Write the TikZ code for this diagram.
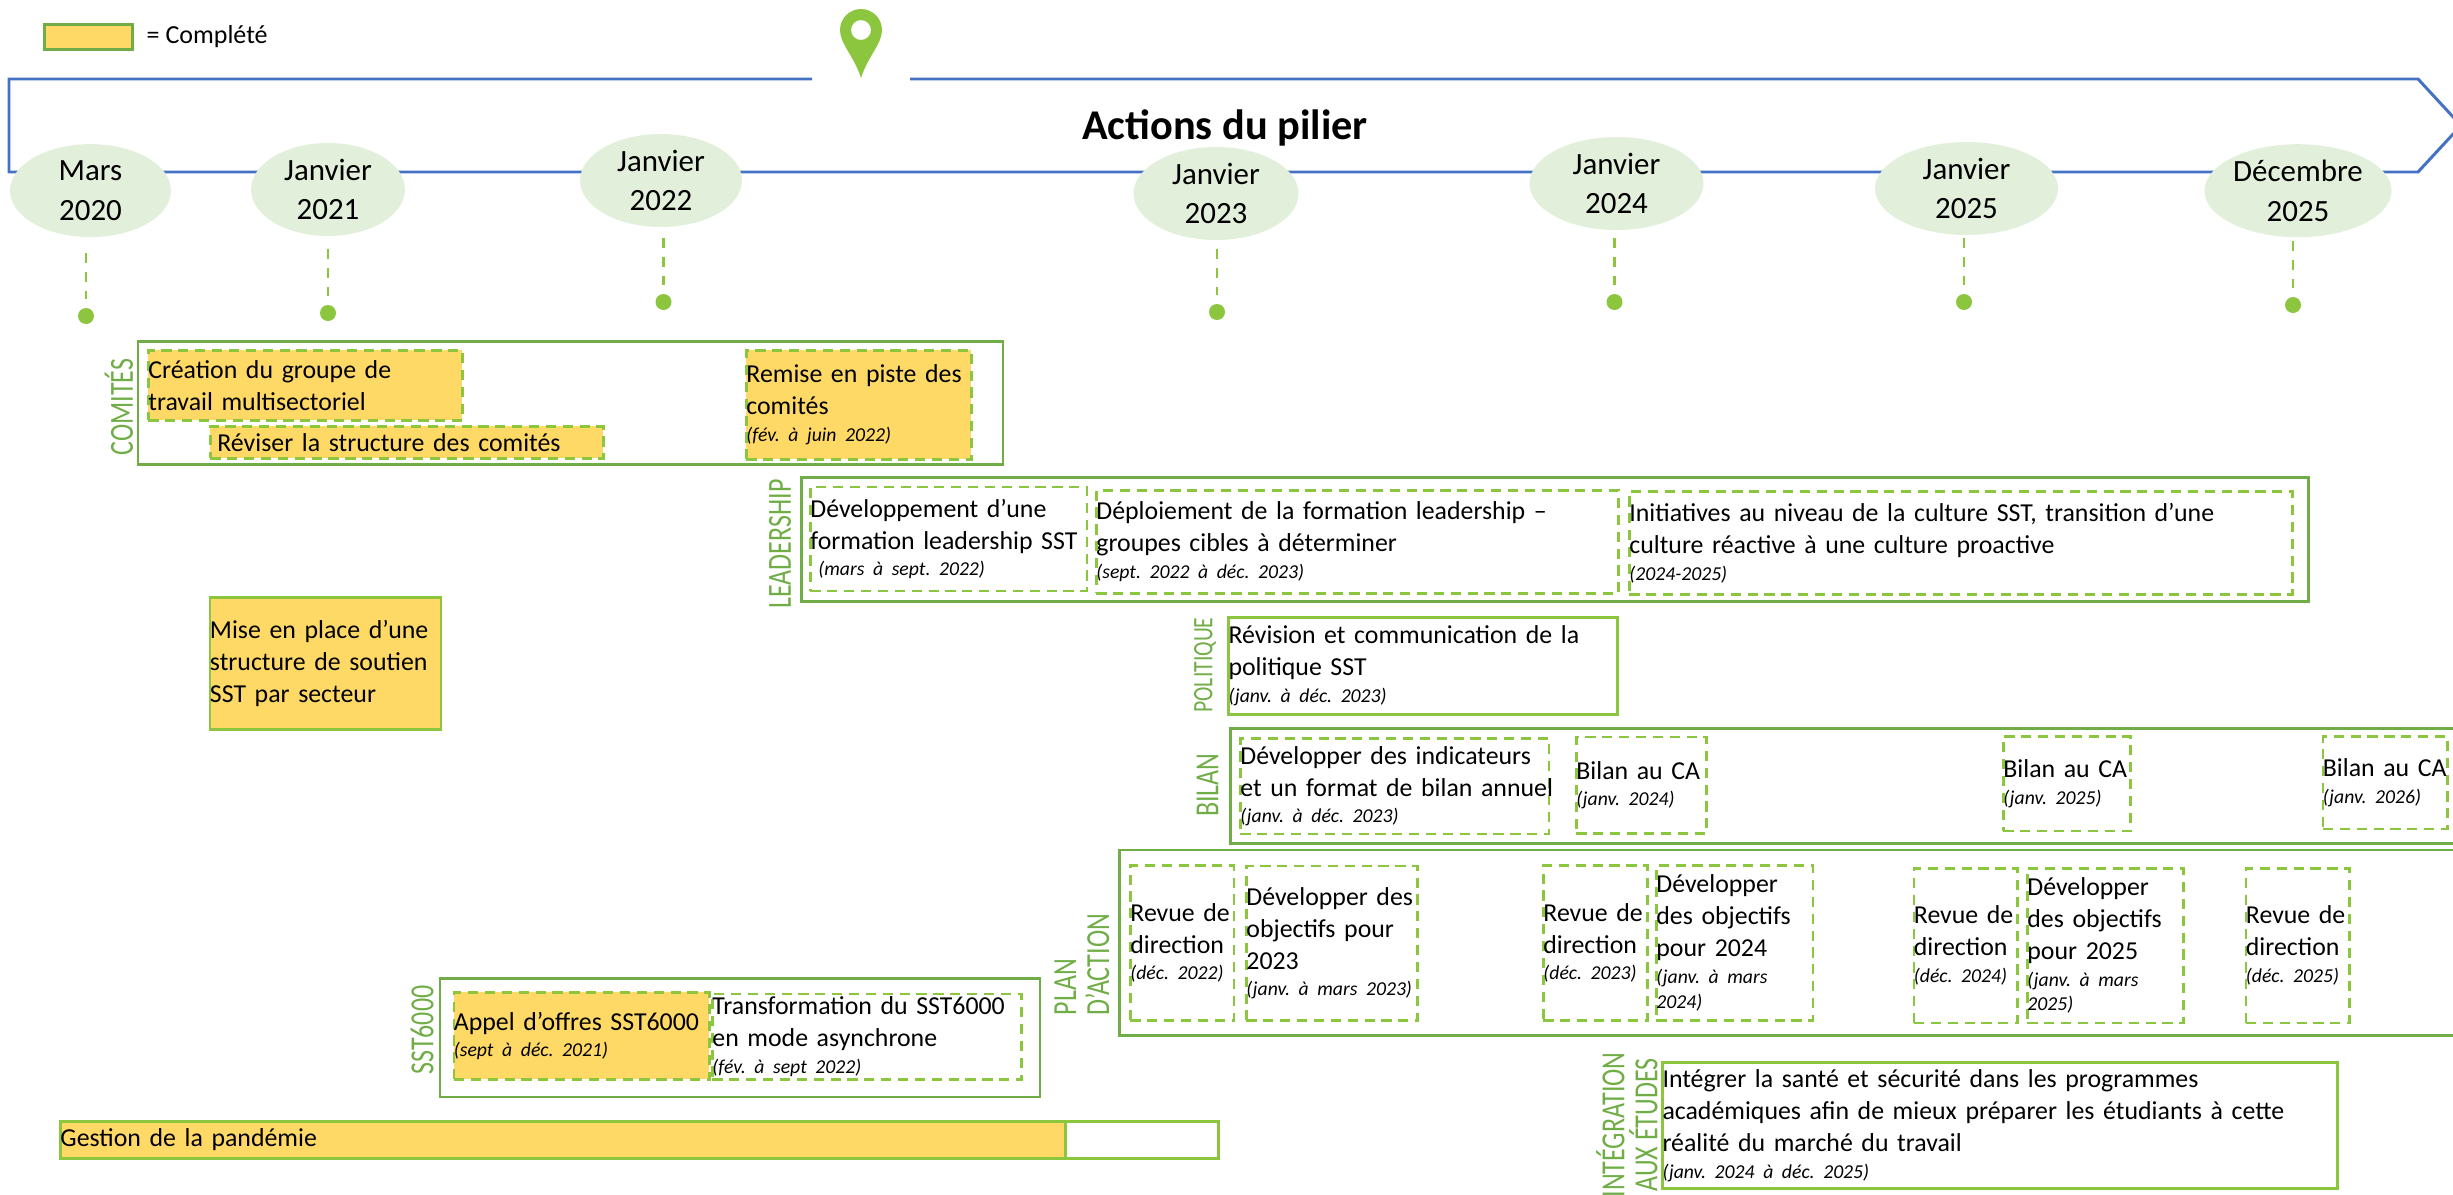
\documentclass[tikz,border=0pt]{standalone}
\usetikzlibrary{positioning,shapes.geometric}
\usepackage{fontspec}
\setmainfont{Carlito}
\newfontfamily\sidefont[FakeStretch=.77]{Carlito}
\frenchspacing
\newcommand{\when}[1]{\par\vskip .6pt{\fontsize{5.6pt}{7pt}\itshape\selectfont #1\par}}
\definecolor{framegreen}{HTML}{70AD47}
\definecolor{lightgreen}{HTML}{8CC63F}
\definecolor{datefill}{HTML}{E2EFDA}
\definecolor{donefill}{HTML}{FFD966}
\definecolor{lineblue}{HTML}{4472C4}
\begin{document}
\begin{tikzpicture}[
	datebubble/.style={ellipse, fill=datefill, align=center, inner sep=0pt, font=\fontsize{8.8pt}{11.2pt}\selectfont},
	dropdot/.style={circle, fill=lightgreen, minimum size=.16cm, inner sep=0pt},
	drop/.style={lightgreen, thick, dash pattern=on 3pt off 2.4pt, shorten >=.08cm},
	frame/.style={anchor=north west, rectangle, draw=framegreen, line width=.85pt, inner sep=0pt},
	solidbox/.style={anchor=north west, rectangle, draw=lightgreen, line width=.85pt, inner sep=0pt, align=left, font=\fontsize{7.35pt}{9.1pt}\selectfont, execute at begin node={\rightskip=-2cm plus 1fil\relax}},
	task/.style={solidbox, line width=.8pt, dash pattern=on 2.9pt off 1.9pt},
	done/.style={task, fill=donefill},
	side/.style={framegreen, align=center, inner sep=0pt, font=\fontsize{9.6pt}{9.4pt}\sidefont}]
	\useasboundingbox (0,0) rectangle (24.53,-11.95);

	% timeline arrow
	\coordinate (a0) at (8.12,-.79);
	\coordinate (a1) at (.09,-.79);
	\coordinate (a2) at (.09,-1.72);
	\coordinate (a3) at (24.18,-1.72);
	\coordinate (a4) at (24.61,-1.255);
	\coordinate (a5) at (24.18,-.79);
	\coordinate (a6) at (9.10,-.79);
	\draw[lineblue, line width=.85pt, line join=miter] (a0) -- (a1) -- (a2) -- (a3) -- (a4) -- (a5) -- (a6);
	\fill[lightgreen, even odd rule] (8.61,-.78) .. controls (8.54,-.56) and (8.40,-.44) .. (8.40,-.30) arc (180:0:.21) .. controls (8.82,-.44) and (8.68,-.56) .. cycle (8.71,-.30) arc (0:360:.10);
	\node[font=\fontsize{12.05pt}{14pt}\bfseries, inner sep=0pt, xshift=12.25cm, yshift=-1.28cm] (title) {Actions du pilier};

	% legend
	\node[solidbox, draw=framegreen, fill=donefill, minimum width=.88cm, minimum height=.25cm, xshift=.43cm, yshift=-.23cm] (key) {};
	\node[font=\fontsize{7.4pt}{8pt}\selectfont, inner sep=0pt, right=.12cm of key] (keytext) {= Complété};

	% dates
	\node[datebubble, minimum width=1.61cm, minimum height=.93cm, xshift=.905cm, yshift=-1.906cm] (0) {Mars\\2020};
	\node[datebubble, minimum width=1.54cm, minimum height=.93cm, xshift=3.28cm, yshift=-1.895cm] (1) {Janvier\\2021};
	\node[datebubble, minimum width=1.62cm, minimum height=.93cm, xshift=6.61cm, yshift=-1.805cm] (2) {Janvier\\2022};
	\node[datebubble, minimum width=1.65cm, minimum height=.93cm, xshift=12.16cm, yshift=-1.935cm] (3) {Janvier\\2023};
	\node[datebubble, minimum width=1.74cm, minimum height=.93cm, xshift=16.165cm, yshift=-1.835cm] (4) {Janvier\\2024};
	\node[datebubble, minimum width=1.83cm, minimum height=.93cm, xshift=19.665cm, yshift=-1.885cm] (5) {Janvier\\2025};
	\node[datebubble, minimum width=1.87cm, minimum height=.93cm, xshift=22.98cm, yshift=-1.907cm] (6) {Décembre\\2025};
	\node[dropdot, xshift=.86cm, yshift=-3.16cm] (d0) {};
	\node[dropdot, xshift=3.28cm, yshift=-3.13cm] (d1) {};
	\node[dropdot, xshift=6.635cm, yshift=-3.02cm] (d2) {};
	\node[dropdot, xshift=12.17cm, yshift=-3.12cm] (d3) {};
	\node[dropdot, xshift=16.145cm, yshift=-3.02cm] (d4) {};
	\node[dropdot, xshift=19.64cm, yshift=-3.02cm] (d5) {};
	\node[dropdot, xshift=22.93cm, yshift=-3.05cm] (d6) {};
	\draw[drop]
				(d0 |- 0.south) edge[shorten <=.15cm] (d0)
				(d1 |- 1.south) edge[shorten <=.12cm] (d1)
				(d2 |- 2.south) edge[shorten <=.10cm] (d2)
				(d3 |- 3.south) edge[shorten <=.08cm] (d3)
				(d4 |- 4.south) edge[shorten <=.07cm] (d4)
				(d5 |- 5.south) edge[shorten <=.02cm] (d5)
				(d6 |- 6.south) edge[shorten <=.03cm] (d6);

	% comites
	\node[frame, minimum width=8.65cm, minimum height=1.23cm, xshift=1.365cm, yshift=-3.40cm] (comites) {};
	\node[side, xshift=1.19cm, yshift=-4.07cm, rotate=90] (comiteslabel) {COMITÉS};
	\node[done, text width=3.14cm, minimum height=.70cm, xshift=1.47cm, yshift=-3.49cm] (c0) {Création du groupe de\\travail multisectoriel};
	\node[done, text width=3.93cm, minimum height=.32cm, xshift=2.09cm, yshift=-4.25cm] (c1) {\hspace{.07cm}Réviser la structure des comités};
	\node[done, text width=2.25cm, minimum height=1.09cm, xshift=7.45cm, yshift=-3.49cm] (c2) {Remise en piste des\\comités\when{(fév. à juin 2022)}};

	% leadership
	\node[frame, minimum width=15.07cm, minimum height=1.24cm, xshift=8.00cm, yshift=-4.76cm] (leadership) {};
	\node[side, xshift=7.80cm, yshift=-5.44cm, rotate=90] (leadershiplabel) {LEADERSHIP};
	\node[task, text width=2.765cm, minimum height=1.04cm, xshift=8.09cm, yshift=-4.855cm] (l0) {Développement d’une\\formation leadership SST\when{\hspace{.08cm}(mars à sept. 2022)}};
	\node[task, text width=5.22cm, minimum height=1.03cm, xshift=10.95cm, yshift=-4.89cm] (l1) {Déploiement de la formation leadership –\\groupes cibles à déterminer\when{(sept. 2022 à déc. 2023)}};
	\node[task, text width=6.63cm, minimum height=1.03cm, xshift=16.28cm, yshift=-4.90cm] (l2) {Initiatives au niveau de la culture SST, transition d’une\\culture réactive à une culture proactive\when{(2024-2025)}};

	% structure
	\node[solidbox, fill=donefill, text width=2.31cm, minimum height=1.32cm, xshift=2.085cm, yshift=-5.96cm] (soutien) {Mise en place d’une\\structure de soutien\\SST par secteur};

	% politique
	\node[solidbox, text width=3.885cm, minimum height=.97cm, xshift=12.27cm, yshift=-6.16cm] (politique) {Révision et communication de la\\politique SST\when{(janv. à déc. 2023)}};
	\node[side, xshift=12.05cm, yshift=-6.65cm, rotate=90, font=\fontsize{8pt}{9pt}\sidefont] (politiquelabel) {POLITIQUE};

	% bilan
	\node[frame, minimum width=12.40cm, minimum height=1.15cm, xshift=12.29cm, yshift=-7.27cm] (bilan) {};
	\node[side, xshift=12.075cm, yshift=-7.85cm, rotate=90] (bilanlabel) {BILAN};
	\node[task, text width=3.085cm, minimum height=.955cm, xshift=12.39cm, yshift=-7.37cm] (b0) {Développer des indicateurs\\et un format de bilan annuel\when{(janv. à déc. 2023)}};
	\node[task, text width=1.30cm, minimum height=.965cm, xshift=15.75cm, yshift=-7.355cm] (b1) {Bilan au CA\when{(janv. 2024)}};
	\node[task, text width=1.27cm, minimum height=.945cm, xshift=20.02cm, yshift=-7.35cm] (b2) {Bilan au CA\when{(janv. 2025)}};
	\node[task, text width=1.245cm, minimum height=.925cm, xshift=23.215cm, yshift=-7.35cm] (b3) {Bilan au CA\when{(janv. 2026)}};

	% plan d'action
	\node[frame, minimum width=13.50cm, minimum height=1.855cm, xshift=11.18cm, yshift=-8.485cm] (plan) {};
	\node[side, xshift=10.82cm, yshift=-9.645cm, rotate=90, align=left] (planlabel) {PLAN\\D’ACTION};
	\node[task, text width=1.035cm, minimum height=1.55cm, xshift=11.29cm, yshift=-8.64cm] (p0) {Revue de\\direction\when{(déc. 2022)}};
	\node[task, text width=1.71cm, minimum height=1.545cm, xshift=12.45cm, yshift=-8.645cm] (p1) {Développer des\\objectifs pour\\2023\when{(janv. à mars 2023)}};
	\node[task, text width=1.04cm, minimum height=1.55cm, xshift=15.42cm, yshift=-8.64cm] (p2) {Revue de\\direction\when{(déc. 2023)}};
	\node[task, text width=1.565cm, minimum height=1.55cm, xshift=16.55cm, yshift=-8.64cm] (p3) {Développer\\des objectifs\\pour 2024\when{(janv. à mars\\2024)}};
	\node[task, text width=1.035cm, minimum height=1.545cm, xshift=19.125cm, yshift=-8.67cm] (p4) {Revue de\\direction\when{(déc. 2024)}};
	\node[task, text width=1.56cm, minimum height=1.545cm, xshift=20.26cm, yshift=-8.67cm] (p5) {Développer\\des objectifs\\pour 2025\when{(janv. à mars\\2025)}};
	\node[task, text width=1.035cm, minimum height=1.545cm, xshift=22.445cm, yshift=-8.67cm] (p6) {Revue de\\direction\when{(déc. 2025)}};

	% sst6000
	\node[frame, minimum width=6.00cm, minimum height=1.185cm, xshift=4.385cm, yshift=-9.77cm] (sst) {};
	\node[side, xshift=4.22cm, yshift=-10.30cm, rotate=90] (sstlabel) {SST6000};
	\node[done, text width=2.555cm, minimum height=.87cm, xshift=4.525cm, yshift=-9.91cm] (s0) {Appel d’offres SST6000\when{(sept à déc. 2021)}};
	\node[task, text width=3.09cm, minimum height=.855cm, xshift=7.11cm, yshift=-9.925cm] (s1) {Transformation du SST6000\\en mode asynchrone\when{(fév. à sept 2022)}};

	% pandemie
	\node[solidbox, text width=11.58cm, minimum height=.37cm, xshift=.59cm, yshift=-11.20cm] (pandemie) {};
	\node[solidbox, fill=donefill, text width=10.05cm, minimum height=.37cm, xshift=.59cm, yshift=-11.20cm] (pandemiedone) {Gestion de la pandémie};

	% integration
	\node[solidbox, text width=6.75cm, minimum height=1.26cm, xshift=16.61cm, yshift=-10.61cm] (integration) {Intégrer la santé et sécurité dans les programmes\\académiques afin de mieux préparer les étudiants à cette\\réalité du marché du travail\when{(janv. 2024 à déc. 2025)}};
	\node[side, xshift=16.27cm, yshift=-11.25cm, rotate=90] (integrationlabel) {INTÉGRATION\\AUX ÉTUDES};
\end{tikzpicture}
\end{document}
